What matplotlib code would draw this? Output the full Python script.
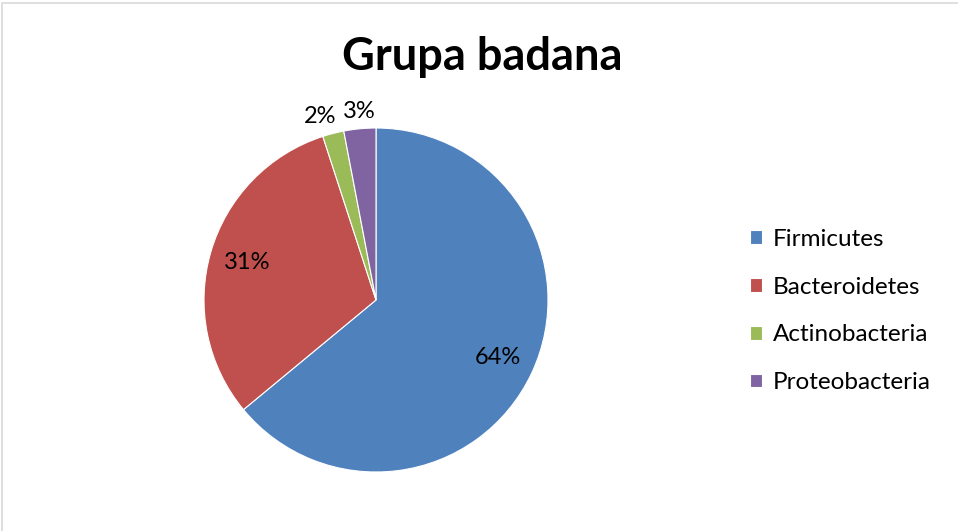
import matplotlib.pyplot as plt
from matplotlib.patches import Rectangle
import numpy as np

plt.rcParams['font.family'] = ['Lato', 'DejaVu Sans']

labels = ['Firmicutes', 'Bacteroidetes', 'Actinobacteria', 'Proteobacteria']
values = [64, 31, 2, 3]
colors = ['#4F81BD', '#C0504D', '#9BBB59', '#8064A2']

fig = plt.figure(figsize=(9.58, 5.31), dpi=100)

# light grey chart frame (left and top edges visible)
fig.patches.append(Rectangle((2 / 958, -0.1), 1.2, 1 - 3 / 531 + 0.1,
                             transform=fig.transFigure, fill=False,
                             edgecolor='#d9d9d9', linewidth=1.2))

ax = fig.add_axes([204 / 958, 59 / 531, 344 / 958, 344 / 531])
wedges, texts, autotexts = ax.pie(values, colors=colors, startangle=90,
                                  counterclock=False, autopct='%1.0f%%',
                                  pctdistance=0.78,
                                  wedgeprops=dict(edgecolor='white', linewidth=0.8),
                                  textprops=dict(fontsize=17, color='black'))
ax.set_xlim(-1, 1)
ax.set_ylim(-1, 1)
ax.set_aspect('equal')

# small slices get their labels outside the pie, spread apart a little
outside = [w_t for w_t in zip(wedges, autotexts, values) if w_t[2] < 5]
xfac = [1.3, 1.05]
for (w, t, v), f in zip(outside, xfac):
    ang = np.deg2rad((w.theta1 + w.theta2) / 2)
    t.set_position((f * np.cos(ang), 1.1 * np.sin(ang)))

fig.text(482 / 958, 1 - 57 / 531, 'Grupa badana', ha='center', va='center',
         fontsize=32.5, fontweight='bold')

fig.legend(wedges, labels, loc='center left', bbox_to_anchor=(750 / 958, 1 - 311 / 531),
           frameon=False, fontsize=17.5, handlelength=0.5, handleheight=0.5,
           handletextpad=0.45, labelspacing=1.1, borderpad=0, borderaxespad=0)

plt.savefig('out.png', dpi=100)
